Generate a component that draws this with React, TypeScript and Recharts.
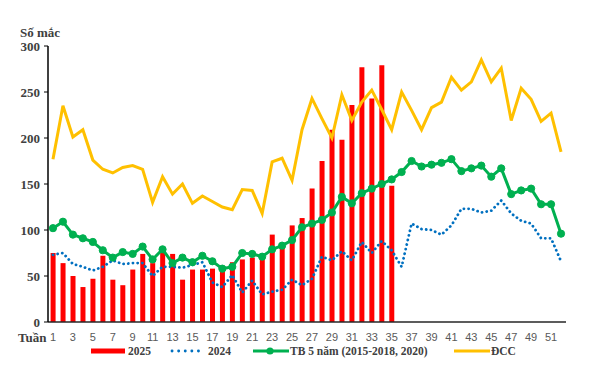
import { ComposedChart, Bar, Line, XAxis, YAxis } from 'recharts'

const weeks = [
  '1', '2', '3', '4', '5', '6', '7', '8', '9', '10', '11', '12', '13',
  '14', '15', '16', '17', '18', '19', '20', '21', '22', '23', '24', '25', '26',
  '27', '28', '29', '30', '31', '32', '33', '34', '35', '36', '37', '38', '39',
  '40', '41', '42', '43', '44', '45', '46', '47', '48', '49', '50', '51', '52',
]

// 2025 only has data up to week 35
const cases2025 = [
  75, 64, 50, 38, 47, 72, 46, 40, 57, 74, 64, 77, 74, 46, 57, 57, 58, 56,
  65, 68, 70, 71, 95, 83, 105, 113, 145, 175, 209, 198, 236, 277, 243, 279, 148,
]

const cases2024 = [
  73, 75, 63, 60, 56, 60, 67, 63, 64, 64, 50, 60, 60, 59, 62, 65, 43, 38,
  51, 32, 45, 30, 33, 35, 46, 40, 47, 71, 67, 77, 67, 87, 75, 88, 78, 60,
  107, 101, 100, 95, 105, 123, 123, 119, 121, 132, 118, 110, 107, 91, 91, 66,
]

const avg5y = [
  102, 109, 95, 91, 87, 78, 70, 76, 74, 82, 68, 79, 64, 70, 65, 72, 66, 58,
  60, 75, 74, 71, 79, 83, 89, 103, 107, 111, 119, 136, 129, 140, 145, 150, 155, 163,
  175, 169, 171, 173, 177, 164, 167, 170, 158, 167, 139, 143, 145, 128, 128, 96,
]

const epidemicLine = [
  177, 235, 201, 209, 176, 166, 162, 168, 170, 166, 130, 158, 139, 150, 129, 137, 131, 125,
  122, 144, 143, 118, 174, 178, 154, 209, 243, 221, 200, 247, 219, 239, 252, 231, 209, 250,
  230, 209, 233, 239, 266, 252, 261, 285, 261, 276, 219, 254, 242, 218, 227, 185,
]

const yTicks = [0, 50, 100, 150, 200, 250, 300]

const data = weeks.map((week, i) => ({
  week,
  y2025: i < cases2025.length ? cases2025[i] : null,
  y2024: cases2024[i],
  avg: avg5y[i],
  dcc: epidemicLine[i],
}))

const serif = '"Liberation Serif", "Times New Roman", serif'
const legendText = { fontFamily: serif, fontWeight: 700, fontSize: 11.5, color: '#404040' }

function LegendItem({ left, swatch, label }: { left: number; swatch: any; label: string }) {
  return (
    <div style={{ position: 'absolute', left, top: 0, display: 'flex', alignItems: 'center', height: 16 }}>
      <svg width={38} height={10} style={{ display: 'block' }}>{swatch}</svg>
      <span style={{ ...legendText, marginLeft: 1, whiteSpace: 'nowrap' }}>{label}</span>
    </div>
  )
}

export default function App() {
  return (
    <div style={{ position: 'absolute', left: 0, top: 0, width: 605, height: 370, background: '#fff' }}>
      <div style={{ position: 'absolute', left: 20, top: 25, fontFamily: serif, fontWeight: 700, fontSize: 13, color: '#404040' }}>
        Số mắc
      </div>
      <div style={{ position: 'absolute', left: 18, top: 330, fontFamily: serif, fontWeight: 700, fontSize: 13, color: '#404040' }}>
        Tuần
      </div>
      <ComposedChart
        width={605}
        height={370}
        data={data}
        margin={{ top: 46, right: 39, left: 0, bottom: 30 }}
        barCategoryGap="26%"
      >
        <XAxis
          dataKey="week"
          interval={1}
          height={18}
          tickLine={false}
          tickSize={0}
          tickMargin={11}
          axisLine={{ stroke: '#262626', strokeWidth: 1.5 }}
          tick={{ fill: '#595959', fontSize: 11, fontFamily: '"Liberation Sans", Arial, sans-serif' }}
        />
        <YAxis
          width={48}
          domain={[0, 300]}
          ticks={yTicks}
          interval={0}
          tickSize={4}
          tickMargin={4}
          axisLine={{ stroke: '#000', strokeWidth: 1.5 }}
          tickLine={{ stroke: '#000' }}
          tick={{ fill: '#404040', fontSize: 13, fontWeight: 700, fontFamily: serif }}
        />
        <Bar dataKey="y2025" fill="#FF0000" isAnimationActive={false} />
        <Line
          type="linear"
          dataKey="y2024"
          stroke="#0070C0"
          strokeWidth={2.8}
          strokeDasharray="0.1 4.6"
          strokeLinecap="round"
          dot={false}
          isAnimationActive={false}
        />
        <Line
          type="linear"
          dataKey="avg"
          stroke="#00B050"
          strokeWidth={3}
          dot={{ r: 3.6, fill: '#00B050', stroke: '#00B050', strokeWidth: 1 }}
          isAnimationActive={false}
        />
        <Line
          type="linear"
          dataKey="dcc"
          stroke="#FFC000"
          strokeWidth={3}
          dot={false}
          isAnimationActive={false}
        />
      </ComposedChart>
      <div style={{ position: 'absolute', left: 0, top: 343, width: 605, height: 16 }}>
        <LegendItem left={89} label="2025" swatch={<rect x={2} y={2.5} width={34} height={5} fill="#FF0000" />} />
        <LegendItem
          left={169}
          label="2024"
          swatch={<line x1={3} y1={5} x2={36} y2={5} stroke="#0070C0" strokeWidth={2.8} strokeDasharray="0.1 6.5" strokeLinecap="round" />}
        />
        <LegendItem
          left={251}
          label="TB 5 năm (2015-2018, 2020)"
          swatch={
            <g>
              <line x1={2} y1={5} x2={38} y2={5} stroke="#00B050" strokeWidth={3} />
              <circle cx={19} cy={5} r={3.6} fill="#00B050" />
            </g>
          }
        />
        <LegendItem
          left={452}
          label="ĐCC"
          swatch={<line x1={2} y1={5} x2={38} y2={5} stroke="#FFC000" strokeWidth={3} />}
        />
      </div>
    </div>
  )
}
